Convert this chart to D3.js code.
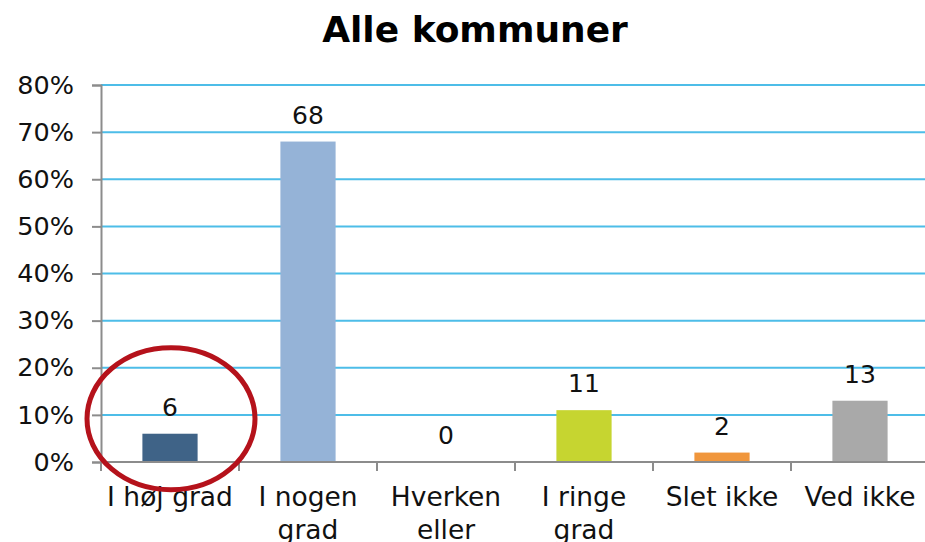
<!DOCTYPE html>
<html><head><meta charset="utf-8">
<script src="https://cdn.jsdelivr.net/npm/d3@7"></script>
<style>body{margin:0;background:#fff}svg{display:block}</style>
</head><body>
<svg id="c" width="925" height="542"></svg>
<script>
const title = "Alle kommuner";
const categories = ["I høj grad","I nogen grad","Hverken eller","I ringe grad","Slet ikke","Ved ikke"];
const values = [6, 68, 0, 11, 2, 13];
const colors = ["#3f6387","#95b3d7","#95b3d7","#c6d530","#f0963c","#a9a9a9"];
const yTicks = [0,10,20,30,40,50,60,70,80];
const highlighted = "I høj grad";

const svg = d3.select("#c");
const font = "'DejaVu Sans', Verdana, sans-serif";
const m = {l:101, r:-4, t:85, b:80};
const W = 925, H = 542;
const x = d3.scaleBand().domain(categories).range([m.l, W - m.r]).paddingInner(0.6).paddingOuter(0.3);
const xb = d3.scaleBand().domain(categories).range([m.l, W - m.r]);
const y = d3.scaleLinear().domain([0,80]).range([462, 85]);

svg.append("text").attr("x", 475).attr("y", 42).attr("text-anchor","middle")
  .attr("font-family", font).attr("font-weight","bold").attr("font-size", 36).text(title);

// gridlines
svg.append("g").selectAll("line").data(yTicks.filter(d=>d>0)).join("line")
  .attr("x1", m.l).attr("x2", W).attr("y1", d=>y(d)).attr("y2", d=>y(d))
  .attr("stroke", "#4dbde8").attr("stroke-width", 2);

// y axis
const ya = svg.append("g").attr("transform", `translate(${m.l},0)`)
  .call(d3.axisLeft(y).tickValues(yTicks).tickFormat(d=>d+"%").tickSize(9).tickPadding(18));
ya.select(".domain").attr("stroke","#8c8c8c").attr("stroke-width",2);
ya.selectAll(".tick line").attr("stroke","#8c8c8c").attr("stroke-width",2);
ya.selectAll("text").attr("font-family", font).attr("font-size", 25.5).attr("fill","#111");

// bars
svg.append("g").selectAll("rect").data(values).join("rect")
  .attr("x", (d,i)=>x(categories[i])).attr("width", x.bandwidth())
  .attr("y", d=>y(d)).attr("height", d=>y(0)-y(d)).attr("fill", (d,i)=>colors[i]);

// x axis
const xa = svg.append("g").attr("transform", `translate(0,${y(0)})`);
xa.append("line").attr("x1", m.l).attr("x2", W).attr("stroke","#8c8c8c").attr("stroke-width",2);
xa.selectAll("line.t").data(categories).join("line").attr("class","t")
  .attr("x1", d=>xb(d)).attr("x2", d=>xb(d)).attr("y1",0).attr("y2",9)
  .attr("stroke","#8c8c8c").attr("stroke-width",2);

// x labels with wrapping
categories.forEach(c => {
  const t = svg.append("text").attr("font-family", font).attr("font-size", 26.5).attr("fill","#111")
    .attr("text-anchor","middle");
  const cx = xb(c) + xb.bandwidth()/2;
  const words = c.split(" ");
  let lines = [], cur = [];
  const probe = t.append("tspan");
  words.forEach(w => {
    const test = cur.concat([w]).join(" ");
    probe.text(test);
    if (probe.node().getComputedTextLength() > 136 && cur.length) { lines.push(cur.join(" ")); cur = [w]; }
    else cur.push(w);
  });
  lines.push(cur.join(" "));
  probe.remove();
  lines.forEach((ln,i) => t.append("tspan").attr("x", cx).attr("y", 506 + i*33).text(ln));
});

// value labels
svg.append("g").selectAll("text").data(values).join("text")
  .attr("x", (d,i)=>x(categories[i]) + x.bandwidth()/2).attr("y", d=>y(d) - 18)
  .attr("text-anchor","middle").attr("font-family", font).attr("font-size", 25).attr("fill","#111")
  .text(d=>d);

// highlight ellipse
const hi = categories.indexOf(highlighted);
svg.append("ellipse")
  .attr("cx", x(highlighted) + x.bandwidth()/2 + 1).attr("cy", y(values[hi]) - 15)
  .attr("rx", 84).attr("ry", 71)
  .attr("fill","none").attr("stroke","#b5121b").attr("stroke-width",5);
</script>
</body></html>
